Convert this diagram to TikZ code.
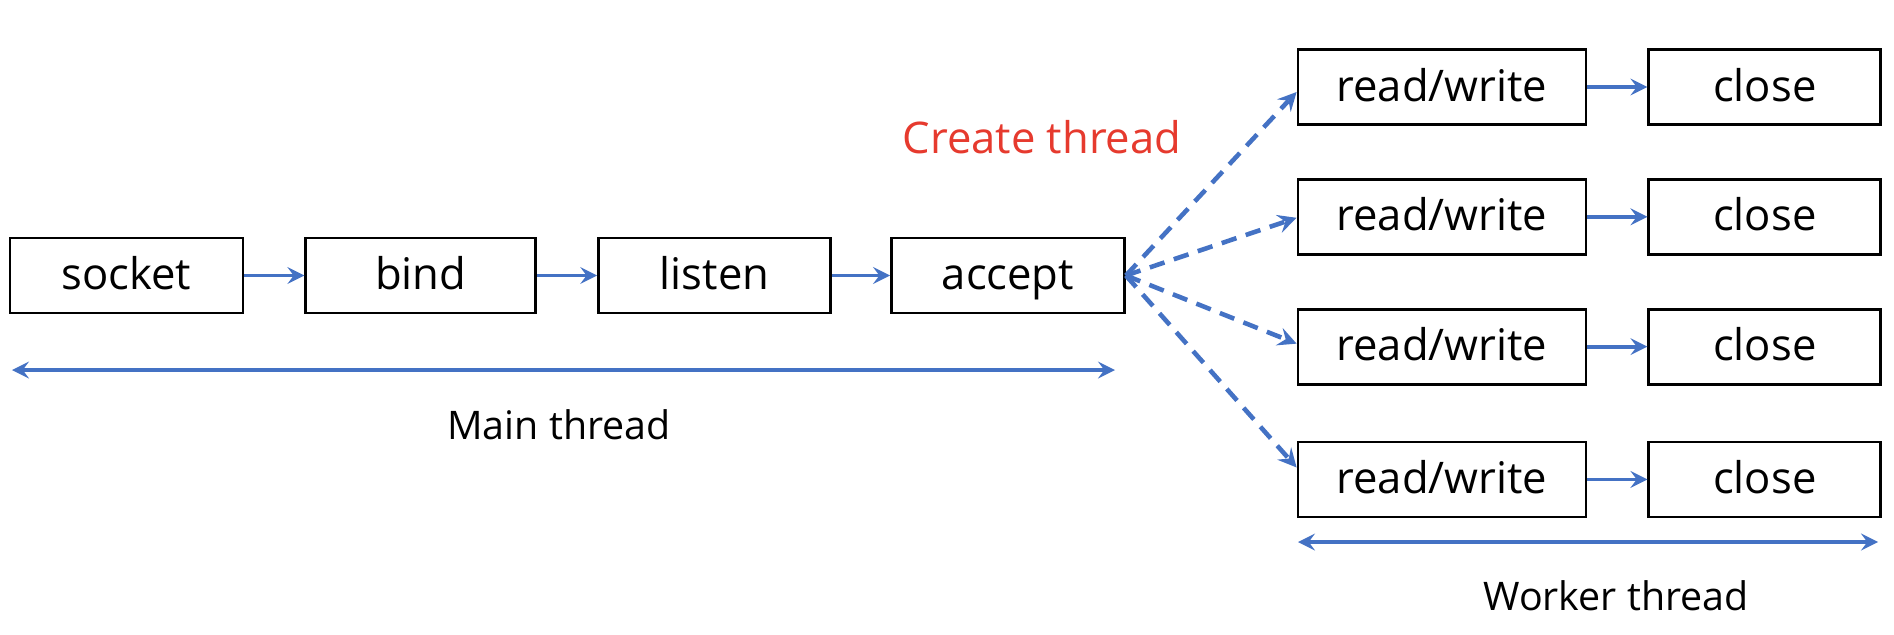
\documentclass[tikz,border=0pt]{standalone}
\usepackage{fontspec}
\setmainfont{Open Sans}
\usetikzlibrary{calc, positioning}
\definecolor{arrowblue}{RGB}{68,114,196}
\definecolor{labelred}{RGB}{230,58,46}

\begin{document}
\begin{tikzpicture}[>=stealth,
  font=\fontsize{12.4}{15}\selectfont,
  callbox/.style={draw, line width=0.8pt, minimum height=0.75cm, inner sep=0pt, text height=1.8ex, text depth=0.3ex},
  flow/.style={->, color=arrowblue, line width=1.1pt},
  spawn/.style={->, color=arrowblue, line width=1.3pt, dash pattern=on 4.4pt off 2.8pt},
  span/.style={<->, color=arrowblue, line width=1.1pt},
  threadlabel/.style={font=\fontsize{11.2}{14}\selectfont}]
\useasboundingbox (0,0) rectangle (18.94,6.34);
\node [callbox, minimum width=2.33cm] (socket) at (1.265,3.585) {socket};
\node [callbox, minimum width=2.30cm, right=0.6cm of socket] (bind) {bind};
\node [callbox, minimum width=2.32cm, right=0.6cm of bind] (listen) {listen};
\node [callbox, minimum width=2.33cm, right=0.58cm of listen] (accept) {accept};
\draw [flow] (socket) -- (bind);
\draw [flow] (bind) -- (listen);
\draw [flow] (listen) -- (accept);
\node [callbox, minimum width=2.88cm] (rw1) at (14.42,5.47) {read/write};
\node [callbox, minimum width=2.88cm, below=0.52cm of rw1] (rw2) {read/write};
\node [callbox, minimum width=2.88cm, below=0.52cm of rw2] (rw3) {read/write};
\node [callbox, minimum width=2.88cm, below=0.55cm of rw3] (rw4) {read/write};
\foreach \i in {1,...,4} {
  \node [callbox, minimum width=2.32cm, right=0.6cm of rw\i] (close\i) {close};
  \draw [flow] (rw\i) -- (close\i);
}
\node [color=labelred] (create) at (10.42,4.97) {Create thread};
\draw [spawn] (accept.east) -- ($(rw1.west)+(0,-0.05)$);
\draw [spawn] (accept.east) -- ($(rw2.west)+(0,-0.01)$);
\draw [spawn] (accept.east) -- ($(rw3.west)+(0,0.03)$);
\draw [spawn] (accept.east) -- ($(rw4.west)+(0,0.12)$);
\coordinate (mainL) at (0.12,2.64);
\coordinate (mainR) at (11.15,2.64);
\draw [span] (mainL) -- (mainR);
\node [threadlabel] (mainlabel) at (5.59,2.09) {Main thread};
\coordinate (workL) at (12.98,0.92);
\coordinate (workR) at (18.78,0.92);
\draw [span] (workL) -- (workR);
\node [threadlabel] (worklabel) at (16.16,0.38) {Worker thread};
\end{tikzpicture}
\end{document}
